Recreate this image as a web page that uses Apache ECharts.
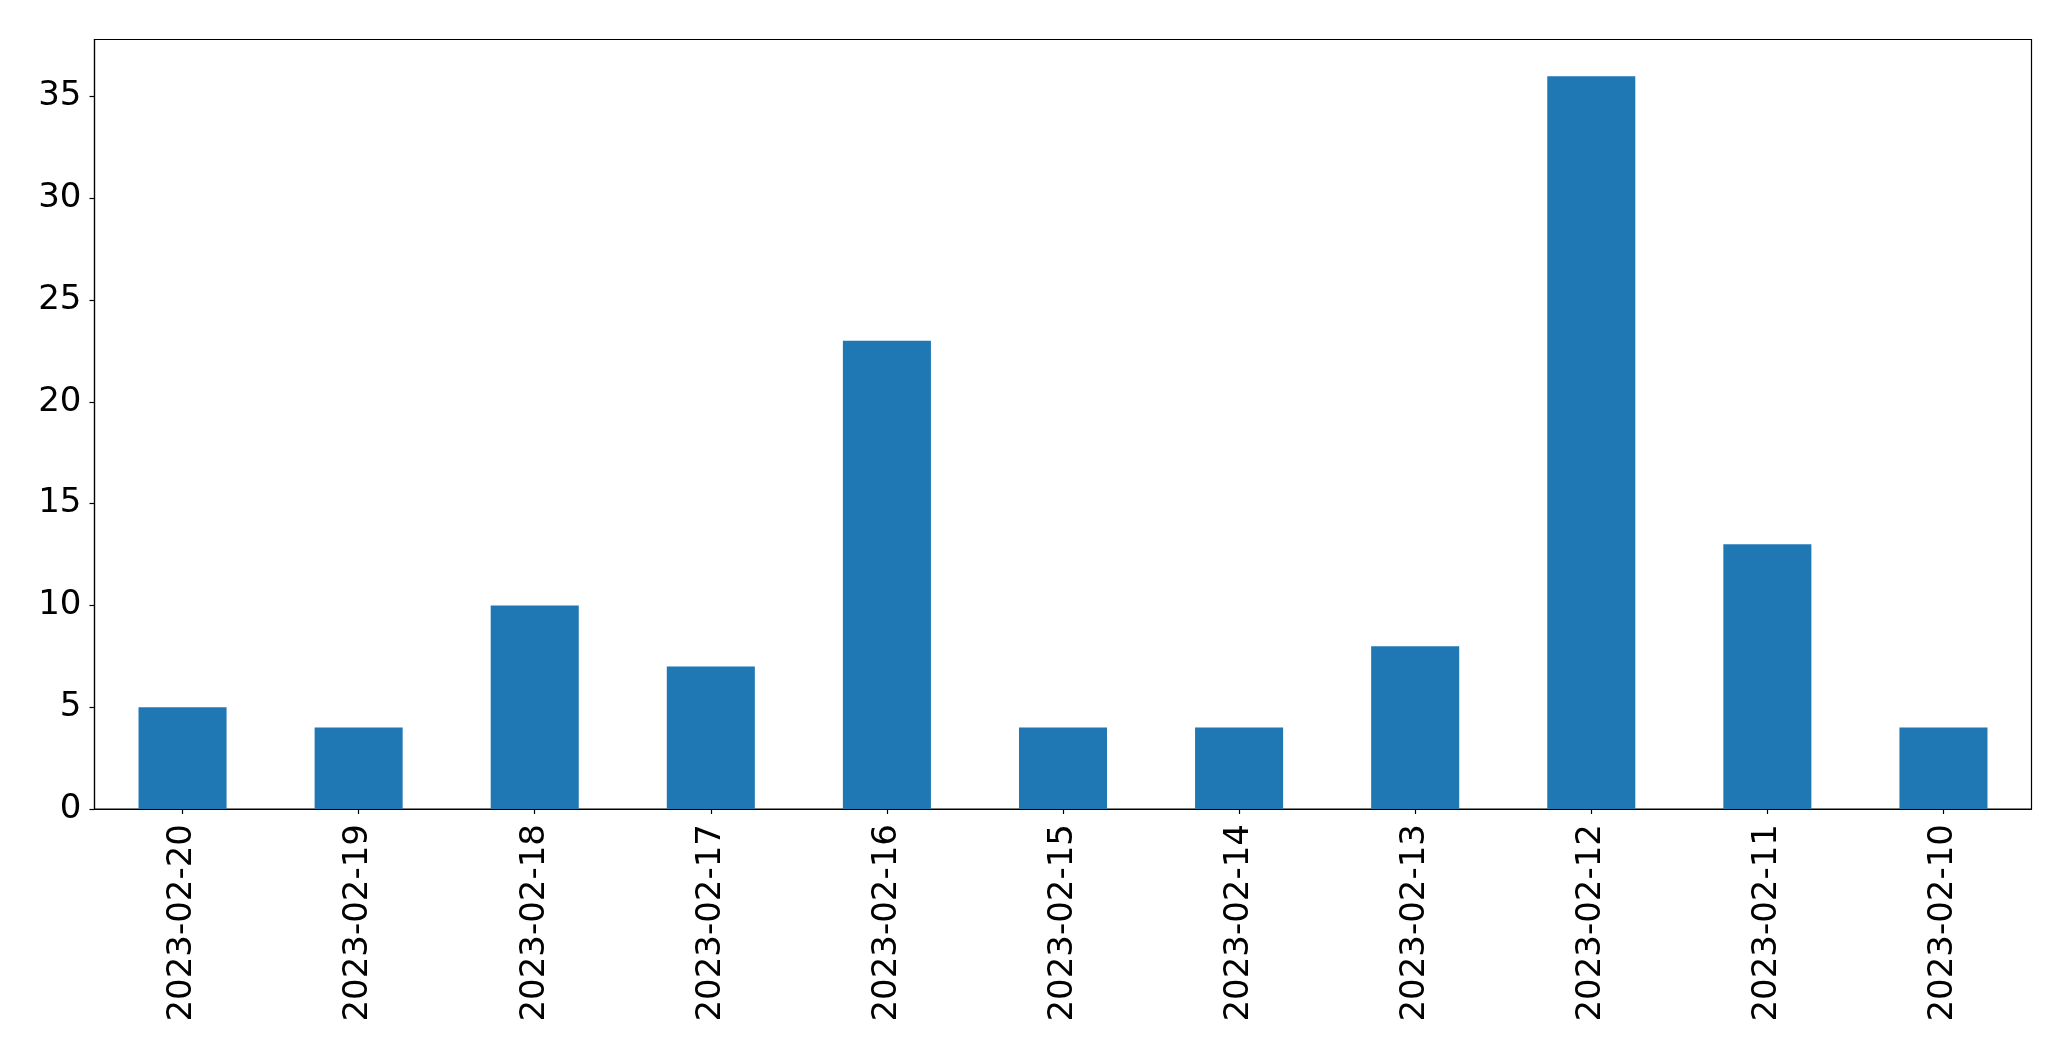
<!DOCTYPE html>
<html>
<head>
<meta charset="utf-8">
<script src="https://cdn.jsdelivr.net/npm/echarts@6/dist/echarts.min.js"></script>
<style>html,body{margin:0;padding:0;background:#fff;}#chart{width:2071px;height:1061px;}</style>
</head>
<body>
<div id="chart"></div>
<script>
const categories = ["2023-02-20","2023-02-19","2023-02-18","2023-02-17","2023-02-16","2023-02-15","2023-02-14","2023-02-13","2023-02-12","2023-02-11","2023-02-10"];
const values = [5, 4, 10, 7, 23, 4, 4, 8, 36, 13, 4];
const yTicks = [0, 5, 10, 15, 20, 25, 30, 35];

const chart = echarts.init(document.getElementById('chart'), null, {renderer: 'canvas'});
const font = 'DejaVu Sans';
chart.setOption({
  animation: false,
  backgroundColor: '#ffffff',
  grid: {
    left: 94.5, right: 39.5, top: 39.5, bottom: 252,
    show: true, borderColor: '#000', borderWidth: 1.2, backgroundColor: 'transparent'
  },
  xAxis: {
    type: 'category',
    data: categories,
    boundaryGap: true,
    axisLine: {show: true, lineStyle: {color: '#000', width: 1.2}},
    axisTick: {show: true, alignWithLabel: true, length: 5, lineStyle: {color: '#000', width: 1.2}},
    axisLabel: {rotate: 90, margin: 15, color: '#000', fontSize: 34, fontFamily: font, interval: 0},
    splitLine: {show: false}
  },
  yAxis: {
    type: 'value',
    min: 0, max: 37.8, interval: 5,
    axisLine: {show: true, lineStyle: {color: '#000', width: 1.2}},
    axisTick: {show: true, length: 5, customValues: yTicks, lineStyle: {color: '#000', width: 1.2}},
    axisLabel: {margin: 13, color: '#000', fontSize: 34, fontFamily: font, customValues: yTicks},
    splitLine: {show: false}
  },
  series: [{
    type: 'bar',
    data: values,
    barWidth: '50%',
    itemStyle: {color: '#1f77b4'}
  }]
});
</script>
</body>
</html>
